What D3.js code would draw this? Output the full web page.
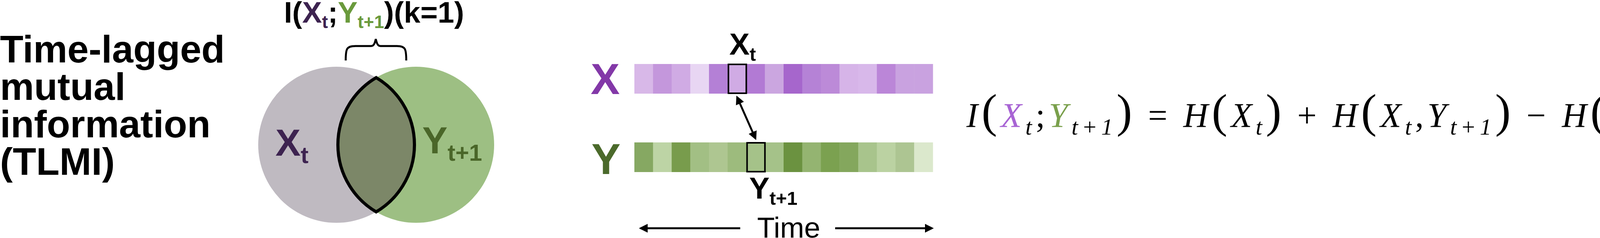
<!DOCTYPE html>
<html>
<head>
<meta charset="utf-8">
<script src="https://cdn.jsdelivr.net/npm/d3@7"></script>
<style>
  body { margin: 0; background: #fff; }
  svg { display: block; }
</style>
</head>
<body>
<div id="chart"></div>
<script>
// data
const titleLines = ['Time-lagged', 'mutual', 'information', '(TLMI)'];
const steps = d3.range(16);
const xShades = ['#d8b8e8', '#c497dc', '#d0abe4', '#e8d6f3', '#b480d6', '#d0abe4', '#b27ad4', '#cba6e0',
  '#a666cc', '#b582d6', '#bc8ad8', '#d6b4e8', '#d8b8ea', '#bb86d8', '#c9a2e0', '#c9a2e0'];
const yShades = ['#86a862', '#bdd4a5', '#789c4c', '#a2bf84', '#aec691', '#9dbb7d', '#a5c289', '#a5c289',
  '#6b9240', '#94b471', '#7ba150', '#84a75d', '#a8c48c', '#bbd2a2', '#adc592', '#dbe8cc'];
const xPick = 5; // X_t
const yPick = 6; // Y_t+1 (one step later)

const width = 4341, height = 610;
const sans = 'Liberation Sans, Arial, Helvetica, sans-serif';
const serif = 'Liberation Serif, Times New Roman, serif';

const svg = d3.select('#chart').append('svg')
  .attr('width', width).attr('height', height);

// title block
svg.append('g').selectAll('text')
  .data(titleLines)
  .join('text')
  .attr('x', 0)
  .attr('y', (d, i) => 160 + i * 96)
  .attr('font-family', sans).attr('font-weight', 'bold').attr('font-size', 98)
  .text(d => d);

// venn diagram
const venn = svg.append('g');
const r = 200, cy = 371, cxL = 861, cxR = 1065;
venn.append('circle').attr('cx', cxL).attr('cy', cy).attr('r', r).attr('fill', '#bfbac1');
venn.append('circle').attr('cx', cxR).attr('cy', cy).attr('r', r).attr('fill', '#9dbf83');
// lens
const dx = (cxR - cxL) / 2, h = Math.sqrt(r * r - dx * dx), mx = (cxL + cxR) / 2;
venn.append('path')
  .attr('d', `M${mx},${cy - h} A${r},${r} 0 0,1 ${mx},${cy + h} A${r},${r} 0 0,1 ${mx},${cy - h} Z`)
  .attr('fill', '#7c8768').attr('stroke', '#000').attr('stroke-width', 8).attr('stroke-linejoin', 'miter');

function subLabel(g, x, y, main, sub, size, color, weight) {
  const t = g.append('text').attr('x', x).attr('y', y)
    .attr('font-family', sans).attr('font-weight', weight || 'bold').attr('font-size', size).attr('fill', color);
  t.append('tspan').text(main);
  t.append('tspan').attr('dy', size * 0.2).attr('font-size', size * 0.62).text(sub);
  return t;
}
subLabel(venn, 705, 399, 'X', 't', 97, '#3d2350');
subLabel(venn, 1081, 393, 'Y', 't+1', 97, '#4a6629');

// top label I(Xt;Yt+1)(k=1)
const topLabel = svg.append('text').attr('x', 727).attr('y', 58)
  .attr('font-family', sans).attr('font-weight', 'bold').attr('font-size', 76);
topLabel.append('tspan').text('I(');
topLabel.append('tspan').attr('fill', '#3d2350').text('X');
topLabel.append('tspan').attr('fill', '#3d2350').attr('font-size', 46).attr('dy', 14).text('t');
topLabel.append('tspan').attr('dy', -14).text(';');
topLabel.append('tspan').attr('fill', '#6a9a3c').text('Y');
topLabel.append('tspan').attr('fill', '#6a9a3c').attr('font-size', 46).attr('dy', 14).text('t+1');
topLabel.append('tspan').attr('dy', -14).text(')(k=1)');

// curly brace
const bx0 = 885, bx1 = 1040, bm = 962, by0 = 155, by1 = 100;
svg.append('path')
  .attr('d', `M${bx0},${by0} C${bx0},${by0 - 30} ${bx0 + 2},${by1 + 18} ${bx0 + 25},${by1 + 18}
    L${bm - 12},${by1 + 18} C${bm - 4},${by1 + 18} ${bm - 2},${by1 + 8} ${bm},${by1}
    C${bm + 2},${by1 + 8} ${bm + 4},${by1 + 18} ${bm + 12},${by1 + 18}
    L${bx1 - 25},${by1 + 18} C${bx1 - 2},${by1 + 18} ${bx1},${by0 - 30} ${bx1},${by0}`)
  .attr('fill', 'none').attr('stroke', '#000').attr('stroke-width', 5);

// time series strips
const x = d3.scaleBand().domain(steps).range([1624, 2388]).padding(0);
const rowY = { X: 164, Y: 365 }, rowH = 76;
const strips = svg.append('g');
[['X', xShades, xPick], ['Y', yShades, yPick]].forEach(([name, shades, pick]) => {
  strips.append('g').selectAll('rect')
    .data(steps)
    .join('rect')
    .attr('x', d => x(d)).attr('y', rowY[name])
    .attr('width', x.bandwidth() + 0.5).attr('height', rowH)
    .attr('fill', d => shades[d]);
  strips.append('rect')
    .attr('x', x(pick) + 2).attr('y', rowY[name] + 1)
    .attr('width', x.bandwidth() - 2).attr('height', rowH - 2)
    .attr('fill', 'none').attr('stroke', '#000').attr('stroke-width', 4);
});
strips.append('text').attr('x', 1512).attr('y', 241)
  .attr('font-family', sans).attr('font-weight', 'bold').attr('font-size', 112).attr('fill', '#8338a8').text('X');
strips.append('text').attr('x', 1514).attr('y', 446)
  .attr('font-family', sans).attr('font-weight', 'bold').attr('font-size', 112).attr('fill', '#4b6a2b').text('Y');
subLabel(strips, 1867, 140, 'X', 't', 78, '#000');
subLabel(strips, 1918, 509, 'Y', 't+1', 78, '#000');

// arrows
const defs = svg.append('defs');
defs.append('marker').attr('id', 'head').attr('viewBox', '0 0 10 10')
  .attr('refX', 8).attr('refY', 5).attr('markerWidth', 4.5).attr('markerHeight', 4.5)
  .attr('markerUnits', 'strokeWidth').attr('orient', 'auto-start-reverse')
  .append('path').attr('d', 'M0,0 L10,5 L0,10 Z').attr('fill', '#000');

svg.append('line').attr('x1', 1887).attr('y1', 249).attr('x2', 1934).attr('y2', 355)
  .attr('stroke', '#000').attr('stroke-width', 5)
  .attr('marker-start', 'url(#head)').attr('marker-end', 'url(#head)');

svg.append('line').attr('x1', 1895).attr('y1', 585).attr('x2', 1640).attr('y2', 585)
  .attr('stroke', '#000').attr('stroke-width', 5).attr('marker-end', 'url(#head)');
svg.append('line').attr('x1', 2138).attr('y1', 585).attr('x2', 2386).attr('y2', 585)
  .attr('stroke', '#000').attr('stroke-width', 5).attr('marker-end', 'url(#head)');
svg.append('text').attr('x', 2019).attr('y', 609).attr('text-anchor', 'middle')
  .attr('font-family', sans).attr('font-size', 74).text('Time');

// equation
const eq = svg.append('text').attr('x', 2474).attr('y', 325)
  .attr('font-family', serif).attr('font-size', 88)
  .attr('textLength', 1860).attr('lengthAdjust', 'spacing');
const parts = [
  ['I', 'i'], ['(', 'p'], ['X', 'i', '#a864d4'], ['t', 's'], [';', 'u'], ['Y', 'i', '#7aa04c'], ['t+1', 's'], [')', 'p'],
  [' = ', 'u'], ['H', 'i'], ['(', 'p'], ['X', 'i'], ['t', 's'], [')', 'p'],
  [' + ', 'u'], ['H', 'i'], ['(', 'p'], ['X', 'i'], ['t', 's'], [',', 'u'], ['Y', 'i'], ['t+1', 's'], [')', 'p'],
  [' − ', 'u'], ['H', 'i'], ['(', 'p'], ['Y', 'i'], ['t+1', 's'], [')', 'p']
];
let lowered = false;
parts.forEach(([txt, kind, color]) => {
  const s = eq.append('tspan').text(txt);
  if (color) s.attr('fill', color);
  if (kind === 'i') s.attr('font-style', 'italic');
  if (kind === 's') {
    s.attr('font-size', 60).attr('font-style', 'italic').attr('dy', 20);
    lowered = true;
  } else if (lowered) {
    s.attr('dy', -20);
    lowered = false;
  }
  if (kind === 'p') s.attr('font-size', 120).attr('font-weight', 200);
});
</script>
</body>
</html>
